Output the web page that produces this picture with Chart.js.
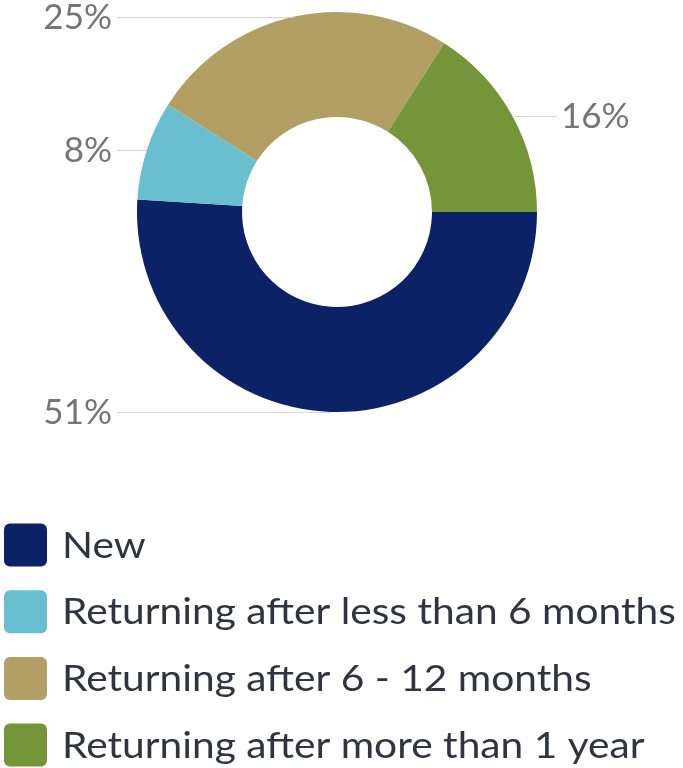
<!DOCTYPE html>
<html>
<head>
<meta charset="utf-8">
<script src="https://cdn.jsdelivr.net/npm/chart.js@4/dist/chart.umd.min.js"></script>
<style>
  html, body { margin: 0; padding: 0; background: #fff; }
  #wrap { width: 683px; height: 768px; position: relative; }
</style>
</head>
<body>
<div id="wrap"><canvas id="chart"></canvas></div>
<script>
const categories = [
  'New',
  'Returning after less than 6 months',
  'Returning after 6 - 12 months',
  'Returning after more than 1 year'
];
const shares = [51, 8, 25, 16];
const sliceColors = ['#0b2266', '#69bfd0', '#b19f64', '#75953a'];

const LABEL_FONT = '35px Lato';
const LABEL_COLOR = '#757575';
const LEADER_COLOR = '#d6d6d6';
const LEGEND_FONT = '36px Lato';
const LEGEND_COLOR = '#2f3540';
const LEGEND_STRETCH = 1.13; // legend text in the source is a bit wide

// percentage labels with horizontal leader lines
const sliceLabels = {
  id: 'sliceLabels',
  afterDatasetsDraw(chart) {
    const ctx = chart.ctx;
    const arcs = chart.getDatasetMeta(0).data;
    ctx.save();
    ctx.font = LABEL_FONT;
    ctx.textBaseline = 'middle';
    arcs.forEach((arc, i) => {
      const { x, y, startAngle, endAngle, outerRadius } = arc.getProps(['x', 'y', 'startAngle', 'endAngle', 'outerRadius'], true);
      const mid = (startAngle + endAngle) / 2;
      const px = x + Math.cos(mid) * outerRadius;
      const py = y + Math.sin(mid) * outerRadius;
      const left = px < x;
      const lineEnd = left ? 117 : 557;
      ctx.strokeStyle = LEADER_COLOR;
      ctx.lineWidth = 1;
      ctx.beginPath();
      ctx.moveTo(px, Math.round(py) + 0.5);
      ctx.lineTo(lineEnd, Math.round(py) + 0.5);
      ctx.stroke();
      ctx.fillStyle = LABEL_COLOR;
      ctx.textAlign = left ? 'right' : 'left';
      ctx.fillText(shares[i] + '%', left ? 112 : 561, py + 1);
    });
    ctx.restore();
  }
};

// stacked legend, one item per row
const stackedLegend = {
  id: 'stackedLegend',
  afterDraw(chart) {
    const ctx = chart.ctx;
    ctx.save();
    ctx.font = LEGEND_FONT;
    ctx.textBaseline = 'middle';
    ctx.textAlign = 'left';
    categories.forEach((name, i) => {
      const cy = 545 + i * 66.7;
      ctx.fillStyle = sliceColors[i];
      ctx.beginPath();
      ctx.roundRect(4, cy - 21.5, 43, 43, 6);
      ctx.fill();
      ctx.save();
      ctx.translate(62, cy + 1);
      ctx.scale(LEGEND_STRETCH, 1);
      ctx.fillStyle = LEGEND_COLOR;
      ctx.fillText(name, 0, 0);
      ctx.restore();
    });
    ctx.restore();
  }
};

new Chart(document.getElementById('chart'), {
  type: 'doughnut',
  data: {
    labels: categories,
    datasets: [{
      data: shares,
      backgroundColor: sliceColors,
      borderWidth: 0
    }]
  },
  options: {
    responsive: true,
    maintainAspectRatio: false,
    animation: false,
    rotation: 90,
    cutout: '47.5%',
    layout: { padding: { left: 137, right: 146, top: 12, bottom: 356 } },
    plugins: {
      legend: { display: false },
      tooltip: { enabled: false }
    }
  },
  plugins: [sliceLabels, stackedLegend]
});
</script>
</body>
</html>
